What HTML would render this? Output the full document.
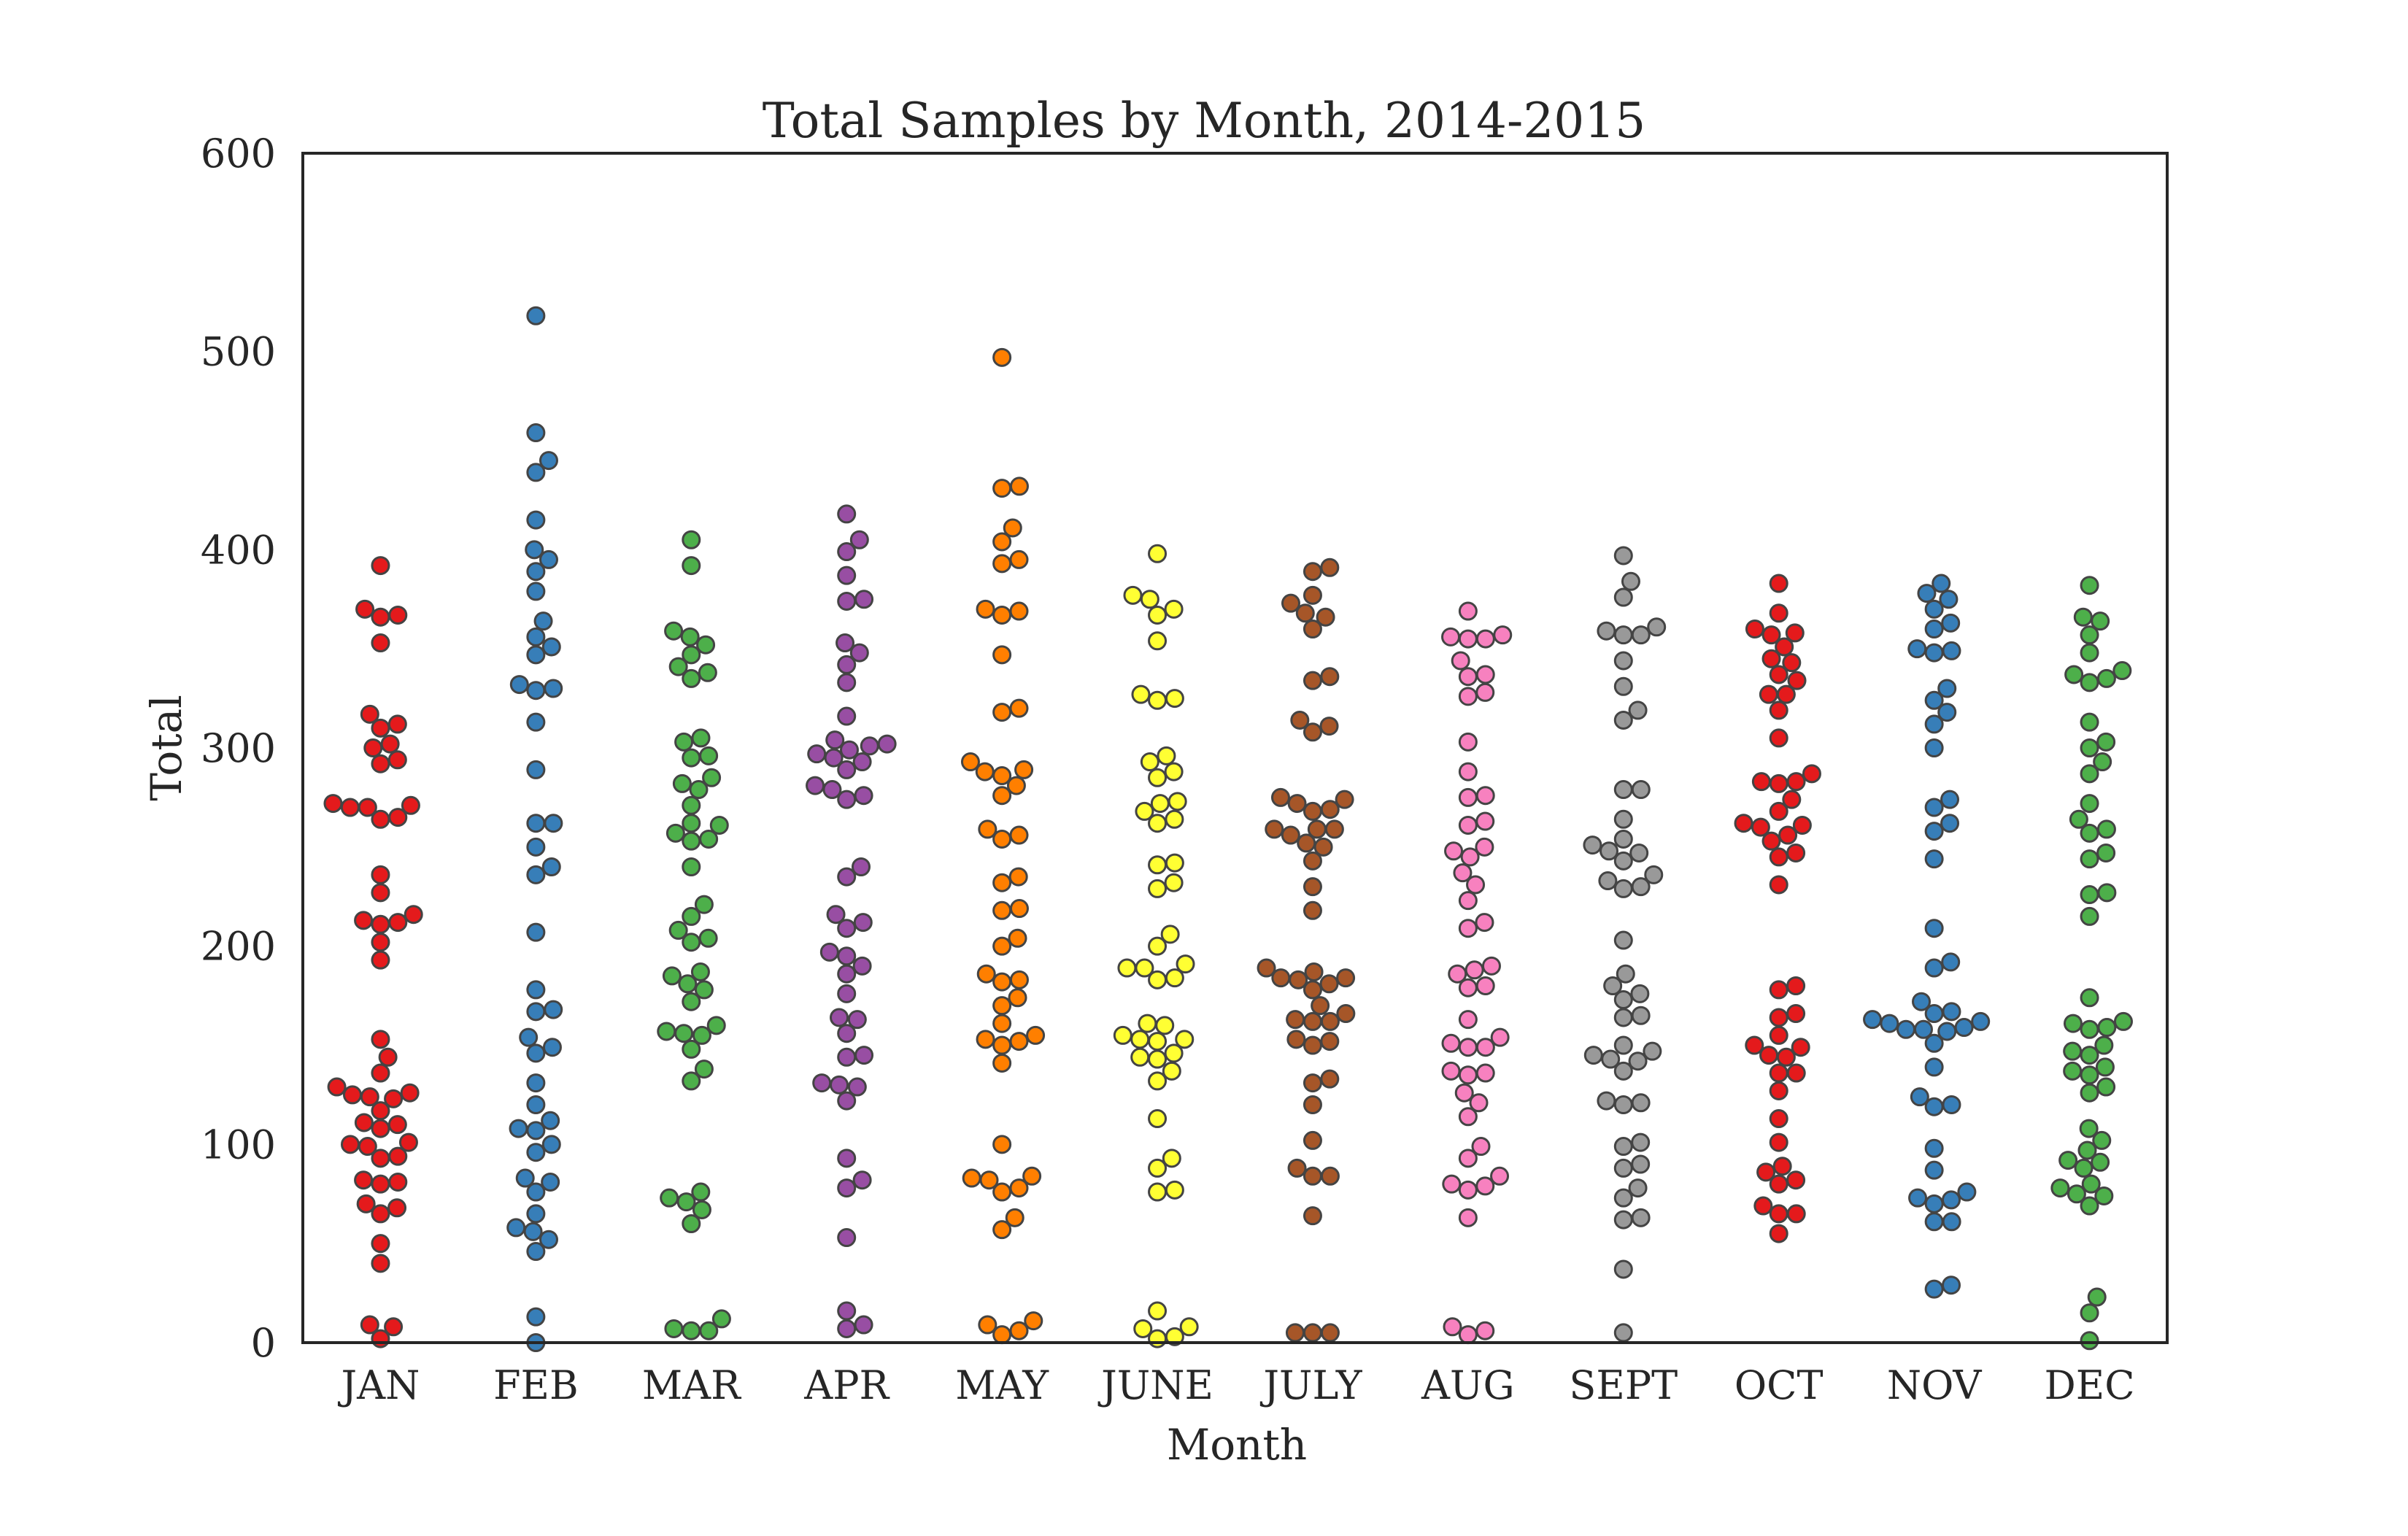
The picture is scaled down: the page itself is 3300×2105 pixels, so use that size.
<!DOCTYPE html>
<html><head><meta charset="utf-8"><style>
html,body{margin:0;padding:0;background:#fff;}
svg text{font-family:"DejaVu Serif","Liberation Serif",serif;fill:#262626;}
</style></head><body>
<svg id="chart" width="3300" height="2100" viewBox="0 0 3300 2100" xmlns="http://www.w3.org/2000/svg">
<rect width="3300" height="2100" fill="#fff"/>
<text x="1650" y="188" font-size="66" text-anchor="middle">Total Samples by Month, 2014-2015</text>
<g id="yticks"></g><g id="xticks"></g><g id="points"></g>
<rect x="415" y="210" width="2555" height="1630" fill="none" stroke="#262626" stroke-width="4"/>
<text x="1695" y="2000" font-size="58" text-anchor="middle">Month</text>
<text x="0" y="0" font-size="58" text-anchor="middle" transform="translate(248,1025) rotate(-90)">Total</text>
</svg>
<script>
const months = ["JAN","FEB","MAR","APR","MAY","JUNE","JULY","AUG","SEPT","OCT","NOV","DEC"];
const colors = ["#e41a1c","#377eb8","#4daf4a","#984ea3","#ff7f00","#ffff33","#a65628","#f781bf","#999999","#e41a1c","#377eb8","#4daf4a"];
const yTicks = [0,100,200,300,400,500,600];
const janVals = [392,370,367,366,353,317,312,310,302,300,294,292,272,270,271,270,265,264,236,227,216,213,212,211,202,193,153,144,136,129,126,125,124,123,117,111,110,108,101,100,99,94,93,82,81,80,70,68,65,50,40,9,8,2];
const febVals = [518,459,445,439,415,400,395,389,379,364,356,351,347,332,330,329,313,289,262,262,250,240,236,207,178,168,167,154,149,146,131,120,112,108,107,100,96,83,81,76,65,58,56,52,46,13,0];
const marVals = [405,392,359,356,352,347,341,338,335,305,303,296,295,285,282,279,271,262,261,257,254,253,240,221,215,208,204,202,187,185,181,178,172,160,157,156,155,148,138,132,76,73,71,67,60,12,7,6,6];
const aprVals = [418,405,399,387,375,374,353,348,342,333,316,304,302,301,299,297,295,293,289,281,279,276,274,240,235,216,212,209,197,195,190,186,176,164,163,156,145,144,131,130,129,122,93,82,78,53,16,9,7];
const mayVals = [497,432,431,411,404,395,393,370,369,367,347,320,318,293,289,288,286,281,276,259,256,254,235,232,219,218,204,200,186,183,182,174,170,161,155,153,152,150,141,100,84,83,82,78,76,63,57,11,9,6,4];
const junVals = [398,377,375,370,367,354,327,325,324,296,293,288,285,273,272,268,264,262,242,241,232,229,206,200,191,189,189,184,183,161,160,155,153,153,152,146,144,143,137,132,113,93,88,77,76,16,8,7,3,2];
const julVals = [391,389,377,373,368,366,360,336,334,314,311,308,274,275,272,269,268,259,259,259,256,252,250,243,230,218,189,187,184,184,183,181,178,170,166,163,162,162,153,152,150,133,131,120,102,88,84,84,64,5,5,5];
const augVals = [369,357,356,355,355,344,337,336,328,326,303,288,276,275,263,261,250,248,245,237,231,223,212,209,190,188,186,180,179,163,154,151,149,149,137,136,135,126,121,114,99,93,84,80,79,77,63,8,6,4];
const sepVals = [397,384,376,361,359,357,357,344,331,319,314,279,279,264,254,251,248,247,243,236,233,230,229,203,186,180,176,173,165,164,150,147,145,143,142,137,122,121,120,101,99,90,88,78,73,63,62,37,5];
const octVals = [383,368,360,358,357,351,345,343,337,334,327,327,319,305,287,283,283,282,274,268,262,261,260,256,253,247,245,231,180,178,166,164,155,150,149,145,144,136,136,127,113,101,89,86,82,80,69,65,65,55];
const novVals = [383,378,375,370,363,360,350,349,348,330,324,318,312,300,274,270,262,258,244,209,192,189,172,167,166,163,162,161,159,158,158,157,151,139,124,120,119,98,87,76,73,72,70,61,61,29,27];
const decVals = [382,366,364,357,348,339,337,335,333,313,303,300,293,287,272,264,259,257,247,244,227,226,215,174,162,161,159,158,150,147,145,139,137,135,129,126,108,102,97,92,91,88,80,78,75,74,69,23,15,1];
const series = [janVals,febVals,marVals,aprVals,mayVals,junVals,julVals,augVals,sepVals,octVals,novVals,decVals];

const NS = "http://www.w3.org/2000/svg";
const L = 415, R = 2970, T = 210, B = 1840;
const yMax = 600;
function yScale(v){ return B - (v / yMax) * (B - T); }
function xScale(i){ const w = (R - L) / months.length; return L + w * (i + 0.5); }
const rad = 11.5, D = rad * 2 + 1;

const yt = document.getElementById('yticks');
yTicks.forEach(t => {
  const tx = document.createElementNS(NS, 'text');
  tx.setAttribute('x', 378);
  tx.setAttribute('y', yScale(t) + 19);
  tx.setAttribute('font-size', '54');
  tx.setAttribute('text-anchor', 'end');
  tx.textContent = t;
  
  
  yt.appendChild(tx);
});
const xt = document.getElementById('xticks');
months.forEach((m, i) => {
  const tx = document.createElementNS(NS, 'text');
  tx.setAttribute('x', xScale(i));
  tx.setAttribute('y', 1917);
  tx.setAttribute('font-size', '54');
  tx.setAttribute('text-anchor', 'middle');
  tx.textContent = m;
  
  
  xt.appendChild(tx);
});

function swarm(vals){
  const ys = vals.map(yScale).slice().sort((a,b)=>b-a);
  const placed = [];
  ys.forEach(y => {
    const cands = [0];
    placed.forEach(p => {
      const dy = Math.abs(p.y - y);
      if (dy < D) { const dx = Math.sqrt(D*D - dy*dy); cands.push(p.x + dx, p.x - dx); }
    });
    cands.sort((a,b)=>Math.abs(a)-Math.abs(b));
    let chosen = 0;
    for (const c of cands) {
      let ok = true;
      for (const p of placed) {
        const dx = p.x - c, dy = p.y - y;
        if (dx*dx + dy*dy < D*D - 0.5) { ok = false; break; }
      }
      if (ok) { chosen = c; break; }
    }
    placed.push({x: chosen, y: y});
  });
  return placed;
}

const pg = document.getElementById('points');
series.forEach((vals, i) => {
  const g = document.createElementNS(NS, 'g');
  
  
  swarm(vals).forEach(p => {
    const c = document.createElementNS(NS, 'circle');
    c.setAttribute('cx', xScale(i) + p.x);
    c.setAttribute('cy', p.y);
    c.setAttribute('r', rad);
    c.setAttribute('fill', colors[i]);
    c.setAttribute('stroke', '#444');
    c.setAttribute('stroke-width', '3');
    
    
    g.appendChild(c);
  });
  pg.appendChild(g);
});
</script>
</body></html>
